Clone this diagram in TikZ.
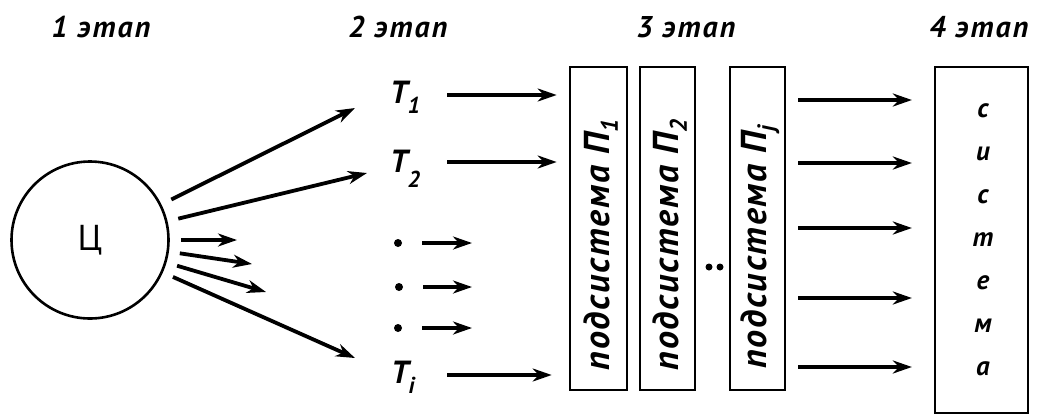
\documentclass[tikz,border=0pt]{standalone}
\usepackage{fontspec}
\setmainfont{PT Sans}
\usetikzlibrary{arrows.meta,calc}
\begin{document}
\begin{tikzpicture}[x=1pt,y=-1pt,
  arr/.style={line width=3.8pt,-{Stealth[length=19pt,width=13pt,inset=6pt]}},
  head/.style={font=\fontsize{30}{30}\selectfont\itshape\bfseries\addfontfeature{LetterSpace=7}, inner sep=0, anchor=base},
  tlbl/.style={font=\fontsize{32}{32}\selectfont\itshape\bfseries, inner sep=0, anchor=base west},
  dotn/.style={circle, fill, minimum size=8pt, inner sep=0},
  box/.style={draw, line width=2.6pt, minimum height=323pt, inner sep=0},
  boxtxt/.style={rotate=90, font=\fontsize{36}{36}\selectfont\itshape\bfseries\addfontfeature{LetterSpace=5}, inner sep=0},
  sys/.style={font=\fontsize{27}{43}\selectfont\itshape\bfseries, align=center, inner sep=0}]
\useasboundingbox (0,0) rectangle (1052,416);
% headers
\node[head] (h1) at (101,37) {1 этап};
\node[head] (h2) at (398,37) {2 этап};
\node[head] (h3) at (686,37) {3 этап};
\node[head] (h4) at (979,37) {4 этап};
% circle
\node[draw, circle, line width=2.6pt, minimum size=157pt, inner sep=0,
      font=\fontsize{36}{36}\selectfont] (C) at (90,240) {Ц};
\coordinate (e1) at (355,108);
\coordinate (e2) at (367,173);
\coordinate (e3) at (237,240);
\coordinate (e4) at (252,264);
\coordinate (e5) at (266,292);
\coordinate (e6) at (355,358);
\foreach \e in {e1,e2,e3,e4,e5,e6}
  \draw[arr, shorten <=11pt] (C) -- (\e);
% T labels
\node[tlbl] (T1) at (390,103) {T\raisebox{-10pt}{\fontsize{23}{23}\selectfont 1}};
\node[tlbl] (T2) at (390,172) {T\raisebox{-15pt}{\fontsize{23}{23}\selectfont 2}};
\node[tlbl] (Ti) at (391,383) {T\raisebox{-10pt}{\fontsize{23}{23}\selectfont i}};
\node[dotn] (d1) at (398,243) {};
\node[dotn] (d2) at (399,287) {};
\node[dotn] (d3) at (398,328) {};
% boxes
\node[box, minimum width=57pt] (P1) at (598.5,228.5) {};
\node[box, minimum width=55pt] (P2) at (667.5,228.5) {};
\node[box, minimum width=55pt] (Pj) at (757.5,228.5) {};
\node[boxtxt] (tP1) at (601,245) {подсистема П\raisebox{-8pt}{\fontsize{24}{24}\selectfont 1}};
\node[boxtxt] (tP2) at (670,245) {подсистема П\raisebox{-8pt}{\fontsize{24}{24}\selectfont 2}};
\node[boxtxt] (tPj) at (760,247) {подсистема П\raisebox{-8pt}{\fontsize{24}{24}\selectfont j}};
\node[dotn, minimum size=7pt] (dd1) at (709,267) {};
\node[dotn, minimum size=7pt] (dd2) at (720,267) {};
% system box
\node[draw, line width=2.2pt, minimum width=93pt, minimum height=346pt, inner sep=0] (S) at (981.5,240) {};
\node[sys] (st) at (983,240) {с\\и\\с\\т\\е\\м\\а};
% arrows T -> P1
\coordinate (a1) at (447,95);
\coordinate (a2) at (447,162);
\coordinate (a3) at (447,375);
\draw[arr, shorten >=12pt] (a1) -- (a1 -| P1.west);
\draw[arr, shorten >=12pt] (a2) -- (a2 -| P1.west);
\draw[arr, shorten >=17pt] (a3) -- (a3 -| P1.west);
% dot arrows
\coordinate (f1) at (472,243);
\coordinate (f2) at (472,287);
\coordinate (f3) at (472,328);
\draw[arr, shorten <=20pt] (d1) -- (f1);
\draw[arr, shorten <=20pt] (d2) -- (f2);
\draw[arr, shorten <=20pt] (d3) -- (f3);
% arrows to system
\foreach \y [count=\k] in {100,163,228,298,367} {
  \coordinate (g\k) at (798,\y);
  \draw[arr, shorten >=22pt] (g\k) -- (g\k -| S.west);
}
\end{tikzpicture}
\end{document}
